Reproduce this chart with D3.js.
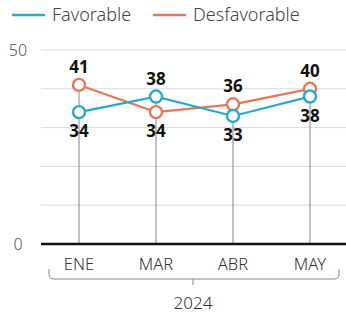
<!DOCTYPE html>
<html>
<head>
<meta charset="utf-8">
<script src="https://cdn.jsdelivr.net/npm/d3@7"></script>
<style>
  body { margin: 0; background: #fff; }
  text { font-family: "Noto Sans", sans-serif; }
</style>
</head>
<body>
<div class="chart"></div>
<script>
var months = ["ENE", "MAR", "ABR", "MAY"];
var favorable = [34, 38, 33, 38];
var desfavorable = [41, 34, 36, 40];
var yTicks = [0, 10, 20, 30, 40, 50];
var yearLabel = "2024";

var W = 346, H = 318;
var margin = {left: 41, right: 346, top: 50, bottom: 244};

var svg = d3.select(".chart")
  .append("svg")
    .attr("width", W)
    .attr("height", H);

var x = d3.scalePoint()
  .domain(months)
  .range([79, 310]);

var y = d3.scaleLinear()
  .domain([0, 50])
  .range([margin.bottom, margin.top]);

var blue = "#2ba8cb", orange = "#e2795a";

// gridlines
svg.append("g").selectAll("line")
  .data(yTicks.filter(function(d) { return d > 0; }))
  .join("line")
    .attr("x1", margin.left).attr("x2", margin.right)
    .attr("y1", function(d) { return y(d); })
    .attr("y2", function(d) { return y(d); })
    .attr("stroke", "#dcdcdc")
    .attr("stroke-width", 1);

// y labels only for 0 and 50
svg.append("g").selectAll("text")
  .data([0, 50])
  .join("text")
    .attr("x", 18)
    .attr("y", function(d) { return y(d) + 6; })
    .attr("text-anchor", "middle")
    .attr("font-size", 16)
    .attr("font-weight", 300)
    .attr("fill", "#555")
    .text(function(d) { return d; });

// vertical drop lines
svg.append("g").selectAll("line")
  .data(months)
  .join("line")
    .attr("x1", function(d) { return x(d); })
    .attr("x2", function(d) { return x(d); })
    .attr("y1", function(d, i) { return y(Math.max(favorable[i], desfavorable[i])); })
    .attr("y2", y(0))
    .attr("stroke", "#999")
    .attr("stroke-width", 1.2);

// baseline
svg.append("line")
  .attr("x1", margin.left).attr("x2", margin.right)
  .attr("y1", y(0)).attr("y2", y(0))
  .attr("stroke", "#111")
  .attr("stroke-width", 2.5);

var line = d3.line()
  .x(function(d, i) { return x(months[i]); })
  .y(function(d) { return y(d); });

function drawSeries(vals, color, other) {
  svg.append("path")
    .datum(vals)
    .attr("fill", "none")
    .attr("stroke", color)
    .attr("stroke-width", 2.2)
    .attr("d", line);

  svg.append("g").selectAll("circle")
    .data(vals)
    .join("circle")
      .attr("cx", function(d, i) { return x(months[i]); })
      .attr("cy", function(d) { return y(d); })
      .attr("r", 6)
      .attr("fill", "#fff")
      .attr("stroke", color)
      .attr("stroke-width", 2.4);

  svg.append("g").selectAll("text")
    .data(vals)
    .join("text")
      .attr("x", function(d, i) { return x(months[i]); })
      .attr("y", function(d, i) {
        return d >= other[i] ? y(d) - 12 : y(d) + 25;
      })
      .attr("text-anchor", "middle")
      .attr("font-size", 17)
      .attr("font-weight", "bold")
      .attr("fill", "#111")
      .text(function(d) { return d; });
}

drawSeries(desfavorable, orange, favorable);
drawSeries(favorable, blue, desfavorable);

// x labels
svg.append("g").selectAll("text")
  .data(months)
  .join("text")
    .attr("x", function(d) { return x(d); })
    .attr("y", 270)
    .attr("text-anchor", "middle")
    .attr("font-size", 16.5)
    .attr("font-weight", 300)
    .attr("fill", "#333")
    .text(function(d) { return d; });

// bracket
svg.append("path")
  .attr("d", "M49,269 L49,274 Q49,279 54,279 L334,279 Q339,279 339,274 L339,269 M193,279 L193,285")
  .attr("fill", "none")
  .attr("stroke", "#888")
  .attr("stroke-width", 1);

svg.append("text")
  .attr("x", 193)
  .attr("y", 309)
  .attr("text-anchor", "middle")
  .attr("font-size", 17)
  .attr("font-weight", 300)
  .attr("fill", "#333")
  .text(yearLabel);

// legend
var legend = [{name: "Favorable", color: blue, x: 12}, {name: "Desfavorable", color: orange, x: 153}];
var lg = svg.append("g").selectAll("g")
  .data(legend)
  .join("g")
    .attr("transform", function(d) { return "translate(" + d.x + ",15)"; });
lg.append("line")
  .attr("x1", 0).attr("x2", 33)
  .attr("stroke", function(d) { return d.color; })
  .attr("stroke-width", 2.5);
lg.append("text")
  .attr("x", 40)
  .attr("y", 6)
  .attr("font-size", 18)
  .attr("font-weight", 300)
  .attr("fill", "#444")
  .text(function(d) { return d.name; });
</script>
</body>
</html>
